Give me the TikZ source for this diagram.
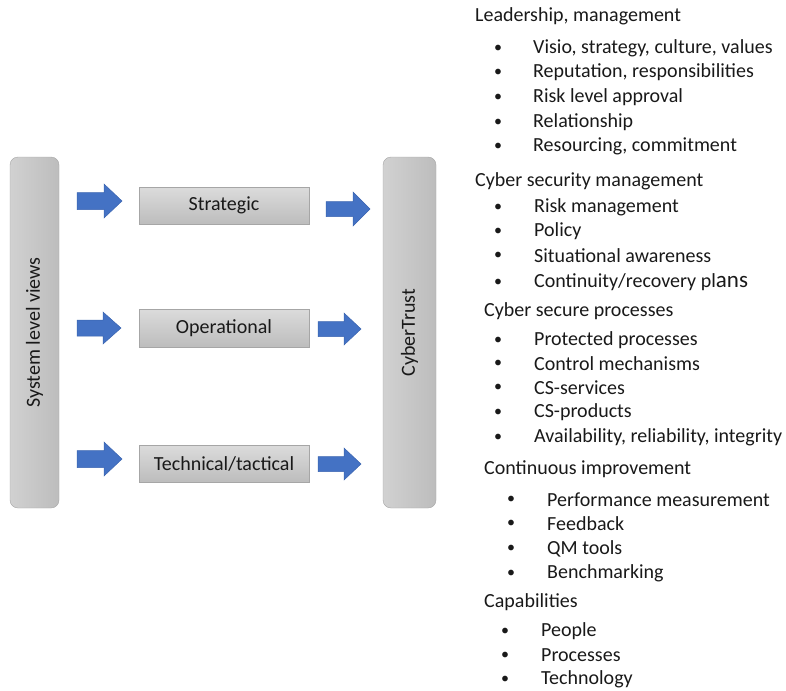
\documentclass[tikz,border=0pt]{standalone}
\usepackage{fontspec}
\setmainfont{Carlito}
\definecolor{arrblue}{HTML}{4472C4}
\definecolor{arrline}{HTML}{3A64B0}
\definecolor{boxline}{HTML}{A6A6A6}
\tikzset{
  every node/.style={font=\fontsize{20}{24}\selectfont, text=black!90, inner sep=0pt},
  bar/.style={draw=boxline, rounded corners=8pt, left color=black!18, right color=black!26, minimum width=50pt, minimum height=351pt},
  levelbox/.style={draw=boxline, top color=black!14, bottom color=black!26, minimum width=170pt, minimum height=37pt},
  blockarrow/.style={fill=arrblue, draw=arrline, line width=0.5pt},
  head/.style={anchor=west, yshift=-1.5pt},
  item/.style={anchor=west, yshift=-1.5pt},
  bul/.style={anchor=center, yshift=-1.5pt, font=\fontsize{16}{20}\selectfont},
  pics/barrow/.style n args={4}{code={
    \path[blockarrow] (0,-#3) -- ({#1-#4},-#3) -- ({#1-#4},-#2) -- (#1,0) -- ({#1-#4},#2) -- ({#1-#4},#3) -- (0,#3) -- cycle;
  }}
}
\begin{document}
\begin{tikzpicture}[x=1pt,y=-1pt]
\useasboundingbox (0,0) rectangle (786,690);
% bars
\node[bar, minimum width=49pt] (sys) at (34.5,332.5) {};
\node[rotate=90] (systxt) at (sys.center) {System level views};
\node[bar, minimum width=53pt] (ct) at (409.5,332.5) {};
\node[rotate=90] (cttxt) at (ct.center) {CyberTrust};
% level boxes
\node[levelbox] (strat) at (224,205.5) {Strategic};
\node[levelbox, minimum height=38pt] (oper) at (224,328) {Operational};
\node[levelbox] (tech) at (224,463.5) {Technical/tactical};
% arrows
\pic at (77,201) {barrow={45}{17}{8.5}{18}};
\pic at (77,328) {barrow={44}{16}{8}{18}};
\pic at (77,459) {barrow={45}{17}{8.5}{18}};
\pic at (326,209) {barrow={44}{17}{7.5}{17}};
\pic at (318,329) {barrow={43}{16}{7.5}{17}};
\pic at (318,464) {barrow={43}{16}{7.5}{17}};
% right column
\node[head] (h1) at (475,15) {Leadership, management};
\foreach \t/\y [count=\i] in {{Visio, strategy, culture, values}/47,{Reputation, responsibilities}/71,{Risk level approval}/96,{Relationship}/121,{Resourcing, commitment}/145}{
  \node[bul] (b1\i) at (498,\y) {•};
  \node[item] (i1\i) at (533,\y) {\t};
}
\node[head] (h2) at (475,180) {Cyber security management};
\foreach \t/\y [count=\i] in {{Risk management}/206,{Policy}/230,{Situational awareness}/254}{
  \node[bul] (b2\i) at (498,\y) {•};
  \node[item] (i2\i) at (534,\y) {\t};
}
\node[bul] (b24) at (498,281) {•};
\node[item] (i24) at (534,281) {Continuity/recovery pl{\fontsize{23}{24}\selectfont ans}};
\node[head] (h3) at (484,310) {Cyber secure processes};
\foreach \t/\y [count=\i] in {{Protected processes}/339,{Control mechanisms}/362,{CS-services}/386,{CS-products}/411,{Availability, reliability, integrity}/436}{
  \node[bul] (b3\i) at (498,\y) {•};
  \node[item] (i3\i) at (534,\y) {\t};
}
\node[head] (h4) at (484,468) {Continuous improvement};
\foreach \t/\y [count=\i] in {{Performance measurement}/498,{Feedback}/522,{QM tools}/547,{Benchmarking}/572}{
  \node[bul] (b4\i) at (511,\y) {•};
  \node[item] (i4\i) at (547,\y) {\t};
}
\node[head] (h5) at (484,601) {Capabilities};
\foreach \t/\y [count=\i] in {{People}/630,{Processes}/654,{Technology}/678}{
  \node[bul] (b5\i) at (505,\y) {•};
  \node[item] (i5\i) at (541,\y) {\t};
}
\end{tikzpicture}
\end{document}
